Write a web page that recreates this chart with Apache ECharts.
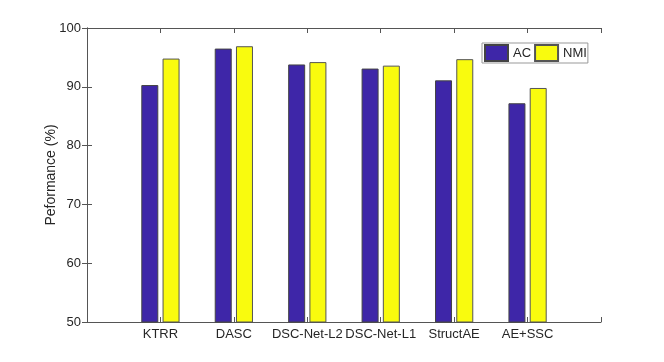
<!DOCTYPE html>
<html lang="en">
<head>
    <meta charset="UTF-8">
    <title>Performance</title>
</head>
<body style="margin:0;background:#fff;">
<div id="main" style="width:664px;height:362px;"></div>
<script src="https://cdn.jsdelivr.net/npm/echarts@6/dist/echarts.min.js"></script>
<script>
    var methods = ['KTRR', 'DASC', 'DSC-Net-L2', 'DSC-Net-L1', 'StructAE', 'AE+SSC'];
    var acValues = [90.3, 96.5, 93.8, 93.1, 91.1, 87.2];
    var nmiValues = [94.8, 96.9, 94.2, 93.6, 94.7, 89.8];
    var yTicks = [50, 60, 70, 80, 90, 100];

    // bars sit at x = 1..6 on a 0..7 axis, like the matlab figure
    function toPoints(vals) {
        return vals.map(function (v, i) { return [i + 1, v]; });
    }

    var myChart = echarts.init(document.getElementById('main'));
    var axisColor = '#555';
    var labelColor = '#262626';
    var font = 'Liberation Sans, Arial, sans-serif';
    // ticks pointing into the plot box
    var tickIn = {show: true, inside: true, length: 5, lineStyle: {color: axisColor}};

    var option = {
        backgroundColor: '#fff',
        textStyle: {fontFamily: font},
        legend: {
            data: ['AC', 'NMI'],
            icon: 'rect',
            left: 482,
            top: 43,
            padding: [1, 1, 1, 2],
            itemWidth: 23,
            itemHeight: 16,
            itemGap: 3,
            borderColor: '#999',
            borderWidth: 1,
            textStyle: {fontSize: 13, color: labelColor, fontFamily: font}
        },
        grid: {left: 87, top: 28, right: 63, bottom: 40},
        xAxis: [{
            type: 'value',
            min: 0,
            max: 7,
            interval: 1,
            position: 'bottom',
            splitLine: {show: false},
            axisLine: {lineStyle: {color: axisColor}},
            axisTick: tickIn,
            axisLabel: {
                fontSize: 13,
                color: labelColor,
                margin: 6,
                formatter: function (v) { return methods[v - 1] || ''; }
            }
        }, {
            type: 'value',
            min: 0,
            max: 7,
            interval: 1,
            position: 'top',
            splitLine: {show: false},
            axisLine: {lineStyle: {color: axisColor}},
            axisTick: tickIn,
            axisLabel: {show: false}
        }],
        yAxis: [{
            type: 'value',
            min: yTicks[0],
            max: yTicks[yTicks.length - 1],
            interval: 10,
            name: 'Peformance (%)',
            nameLocation: 'middle',
            nameGap: 29,
            nameMoveOverlap: false,
            nameTextStyle: {fontSize: 14, color: labelColor},
            splitLine: {show: false},
            axisLine: {show: true, lineStyle: {color: axisColor}},
            axisTick: tickIn,
            axisLabel: {fontSize: 13, color: labelColor, margin: 6}
        }, {
            type: 'value',
            min: yTicks[0],
            max: yTicks[yTicks.length - 1],
            interval: 10,
            position: 'right',
            splitLine: {show: false},
            axisLine: {show: true, lineStyle: {color: axisColor}},
            axisTick: tickIn,
            axisLabel: {show: false}
        }],
        series: [{
            name: 'AC',
            type: 'bar',
            barWidth: 17,
            barGap: '25%',
            data: toPoints(acValues),
            itemStyle: {color: '#3e26a8', borderColor: '#444', borderWidth: 1}
        }, {
            name: 'NMI',
            type: 'bar',
            barWidth: 17,
            barGap: '25%',
            data: toPoints(nmiValues),
            itemStyle: {color: '#f9fb0e', borderColor: '#555', borderWidth: 1}
        }]
    };

    myChart.setOption(option);
</script>
</body>
</html>
